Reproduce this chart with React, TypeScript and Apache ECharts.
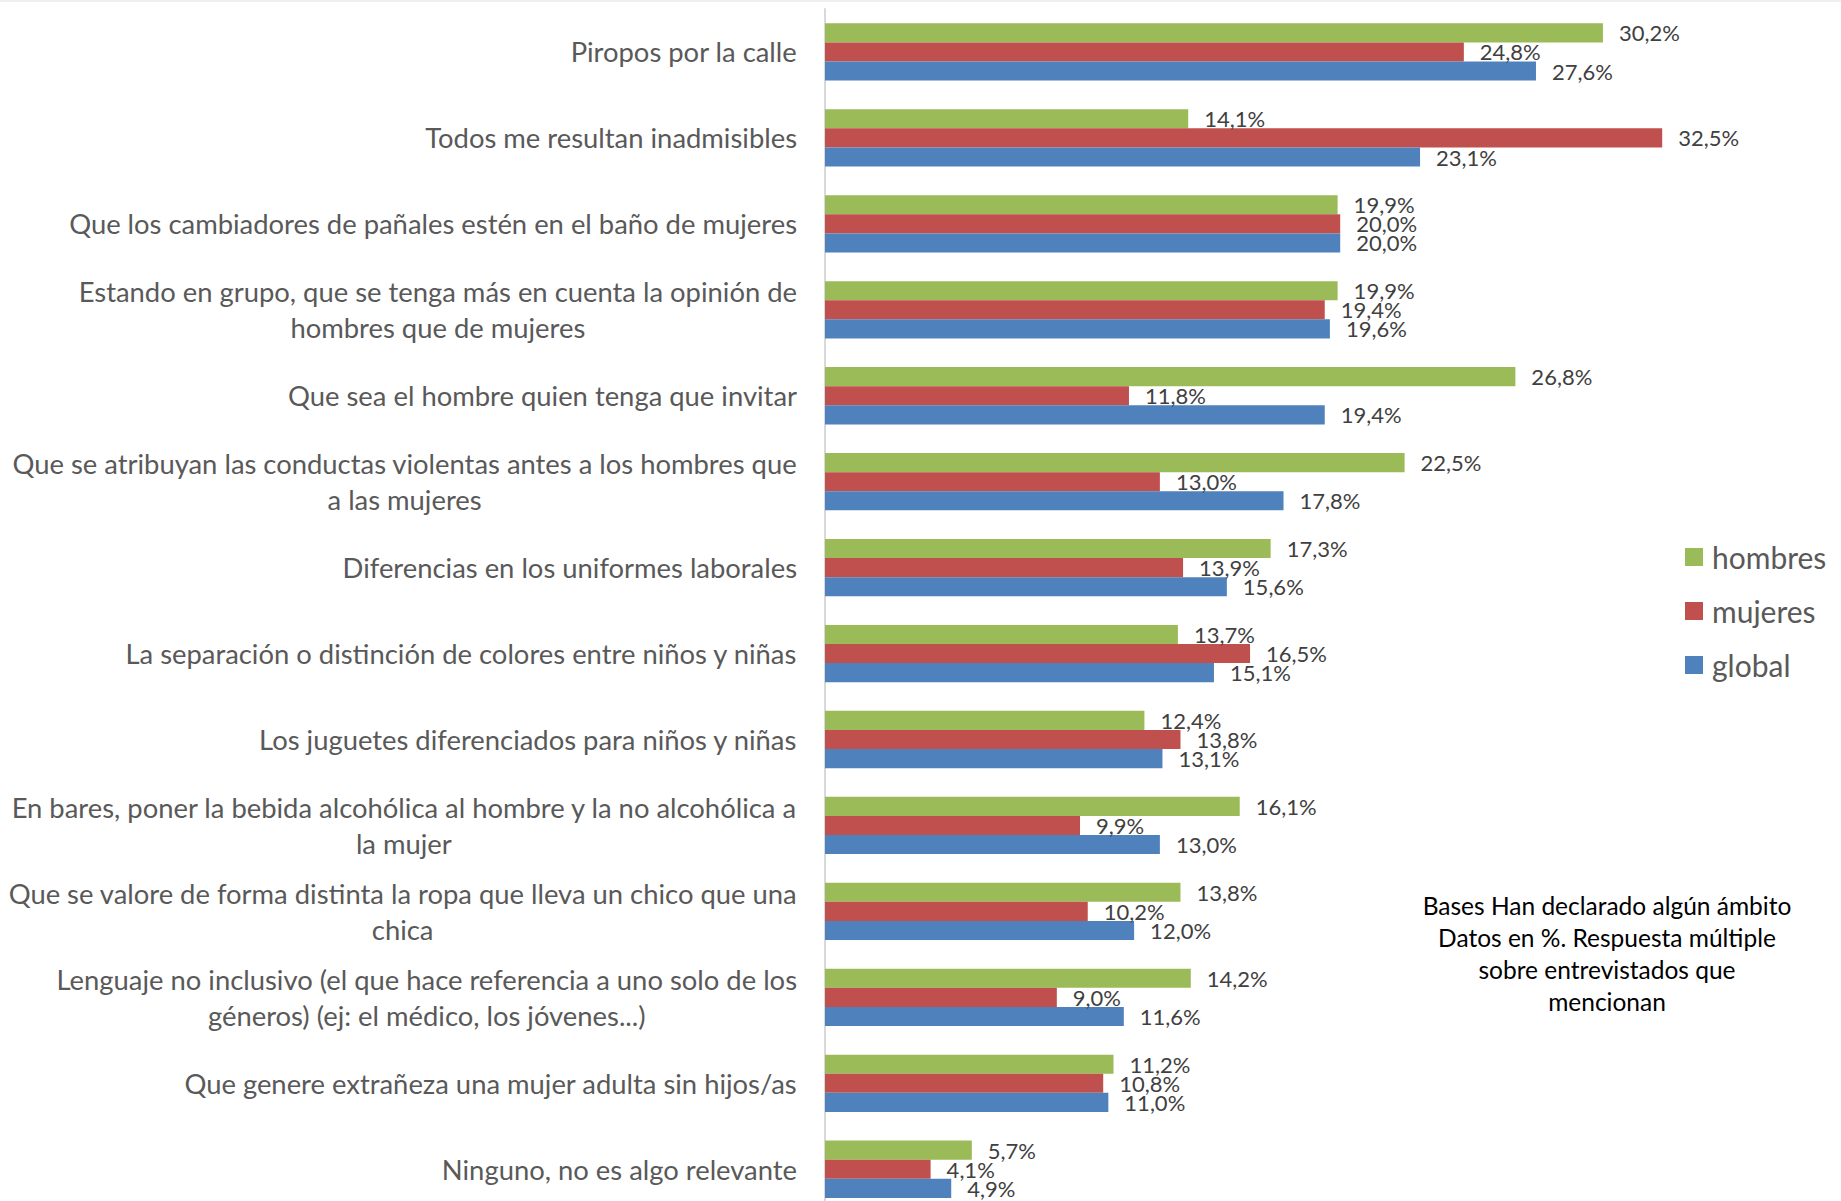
import React, { useEffect, useRef } from "react";
import * as echarts from "echarts";

const categories: string[] = [
  "Piropos por la calle",
  "Todos me resultan inadmisibles",
  "Que los cambiadores de pañales estén en el baño de mujeres",
  "Estando en grupo, que se tenga más en cuenta la opinión de\nhombres que de mujeres",
  "Que sea el hombre quien tenga que invitar",
  "Que se atribuyan las conductas violentas antes a los hombres que\na las mujeres",
  "Diferencias en los uniformes laborales",
  "La separación o distinción de colores entre niños y niñas",
  "Los juguetes diferenciados para niños y niñas",
  "En bares, poner la bebida alcohólica al hombre y la no alcohólica a\nla mujer",
  "Que se valore de forma distinta la ropa que lleva un chico que una\nchica",
  "Lenguaje no inclusivo (el que hace referencia a uno solo de los\ngéneros) (ej: el médico, los jóvenes...)",
  "Que genere extrañeza una mujer adulta sin hijos/as",
  "Ninguno, no es algo relevante",
];

const hombres: number[] = [30.2, 14.1, 19.9, 19.9, 26.8, 22.5, 17.3, 13.7, 12.4, 16.1, 13.8, 14.2, 11.2, 5.7];
const mujeres: number[] = [24.8, 32.5, 20.0, 19.4, 11.8, 13.0, 13.9, 16.5, 13.8, 9.9, 10.2, 9.0, 10.8, 4.1];
const global: number[] = [27.6, 23.1, 20.0, 19.6, 19.4, 17.8, 15.6, 15.1, 13.1, 13.0, 12.0, 11.6, 11.0, 4.9];

const seriesNames: string[] = ["hombres", "mujeres", "global"];
const seriesColors: string[] = ["#9BBB59", "#C0504D", "#4F81BD"];

const noteLines: string[] = [
  "Bases Han declarado algún ámbito",
  "Datos en %. Respuesta múltiple",
  "sobre entrevistados que",
  "mencionan",
];

const FONT = "Lato, 'Open Sans', sans-serif";

export default function App() {
  const ref = useRef<HTMLDivElement>(null);

  useEffect(() => {
    if (!ref.current) return;
    const chart = echarts.init(ref.current, undefined, { renderer: "svg" });
    const fmt = (p: any) => Number(p.value).toFixed(1).replace(".", ",") + "%";
    const dataSets = [hombres, mujeres, global];
    const option: any = {
      animation: false,
      backgroundColor: "#ffffff",
      grid: { left: 825, top: 9, width: 901.6, height: 1203.2, containLabel: false },
      xAxis: {
        type: "value",
        min: 0,
        max: 35,
        show: false,
        splitLine: { show: false },
      },
      yAxis: {
        type: "category",
        data: categories,
        inverse: true,
        axisLine: { show: true, lineStyle: { color: "#D9D9D9", width: 2 } },
        axisTick: { show: false },
        splitLine: { show: false },
        axisLabel: {
          interval: 0,
          margin: 28,
          color: "#595959",
          fontFamily: FONT,
          fontSize: 27.4,
          lineHeight: 36,
          formatter: (v: string) =>
            v
              .split("\n")
              .map((l) => `{c|${l}}`)
              .join("\n"),
          rich: {
            c: {
              align: "center",
              color: "#595959",
              fontFamily: FONT,
              fontSize: 27.4,
              lineHeight: 36,
            },
          },
        },
      },
      legend: {
        orient: "vertical",
        left: 1680,
        top: 537,
        padding: 5,
        itemWidth: 18,
        itemHeight: 18,
        itemGap: 24,
        icon: "rect",
        data: seriesNames,
        textStyle: {
          color: "#595959",
          fontFamily: FONT,
          fontSize: 30,
          lineHeight: 30,
          padding: [0, 0, 0, 4],
        },
      },
      series: seriesNames.map((name, i) => ({
        name,
        type: "bar",
        data: dataSets[i],
        barWidth: 19.1,
        barGap: "0%",
        itemStyle: { color: seriesColors[i] },
        label: {
          show: true,
          position: "right",
          distance: 16,
          color: "#404040",
          fontFamily: FONT,
          fontSize: 22,
          formatter: fmt,
        },
      })),
      graphic: [
        {
          type: "rect",
          left: 0,
          top: 0,
          shape: { width: 1841, height: 2 },
          style: { fill: "#EFEFF3" },
          silent: true,
        },
        {
          type: "text",
          x: 1607,
          y: 889,
          style: {
            text: noteLines.join("\n"),
            fill: "#000000",
            fontFamily: FONT,
            fontSize: 24.5,
            lineHeight: 32,
            align: "center",
            verticalAlign: "top",
          },
        },
      ],
    };
    chart.setOption(option);
    return () => chart.dispose();
  }, []);

  return (
    <div
      style={{
        position: "absolute",
        left: 0,
        top: 0,
        width: 1841,
        height: 1201,
        overflow: "hidden",
        background: "#fff",
      }}
    >
      <div ref={ref} style={{ width: 1841, height: 1216 }} />
    </div>
  );
}
